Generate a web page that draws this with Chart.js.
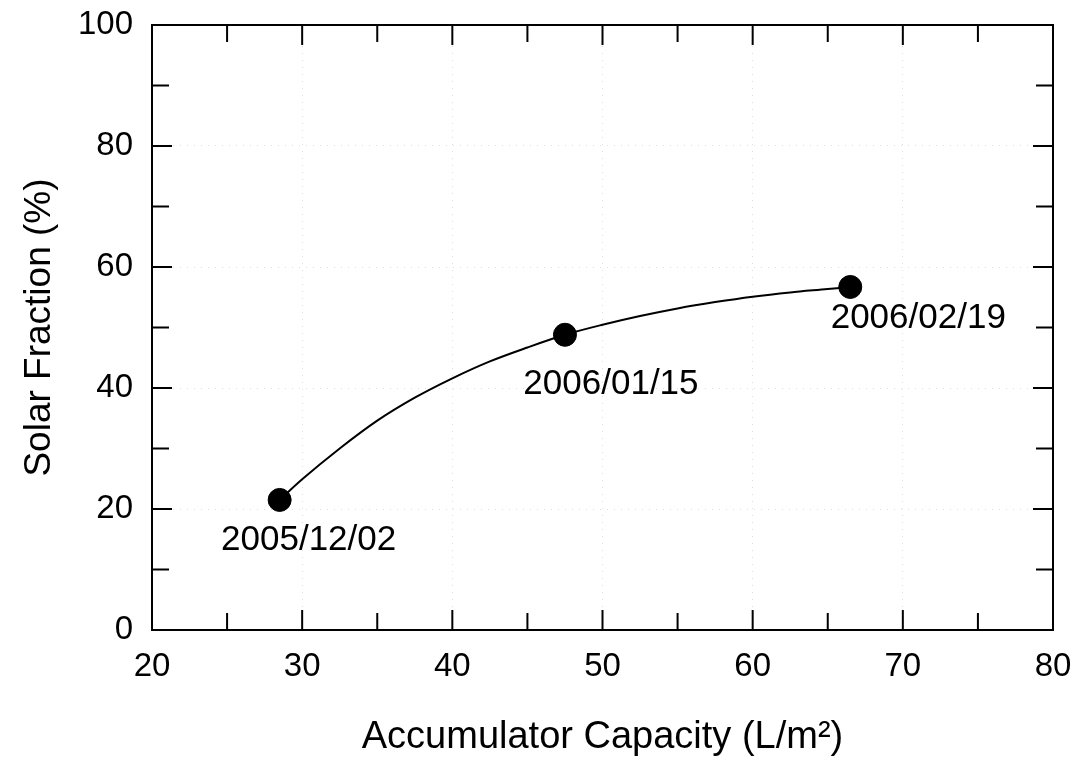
<!DOCTYPE html>
<html>
<head>
<meta charset="utf-8">
<script src="https://cdn.jsdelivr.net/npm/chart.js@4"></script>
<style>
  html, body { margin: 0; padding: 0; background: #fff; }
  #wrap { width: 1074px; height: 760px; }
</style>
</head>
<body>
<div id="wrap"><canvas id="c" width="1074" height="760"></canvas></div>
<script>
// ---- data ----
const capacity = [28.5, 47.5, 66.5];          // Accumulator Capacity (L/m2), measured points
const solarFraction = [21.5, 48.8, 56.7];     // Solar Fraction (%), measured points
const dates = ['2005/12/02', '2006/01/15', '2006/02/19'];
// fitted curve
const curveX = [28.5, 30, 32.5, 35, 37.5, 40, 42.5, 45, 47.5, 50, 52.5, 55, 57.5, 60, 62.5, 65, 66.5];
const curveY = [21.5, 24.9, 30.0, 34.6, 38.4, 41.6, 44.4, 46.7, 48.8, 50.45, 51.9, 53.15, 54.2, 55.1, 55.8, 56.35, 56.7];
const xTicks = [20, 30, 40, 50, 60, 70, 80];
const yTicks = [0, 20, 40, 60, 80, 100];
const xMinor = [25, 35, 45, 55, 65, 75];
const yMinor = [10, 30, 50, 70, 90];

const FONT = "Arial, 'Liberation Sans', sans-serif";
const labelOffsets = [[29, 40], [46, 50], [68, 31]];

const framePlugin = {
  id: 'frame',
  afterDraw(chart) {
    const { ctx, chartArea: a, scales: { x, y } } = chart;
    ctx.save();
    ctx.strokeStyle = '#000';
    ctx.lineWidth = 2;
    ctx.strokeRect(a.left, a.top, a.right - a.left, a.bottom - a.top);
    ctx.beginPath();
    const tickX = (vals, len) => {
      vals.forEach(v => {
        const px = x.getPixelForValue(v);
        ctx.moveTo(px, a.bottom); ctx.lineTo(px, a.bottom - len);
        ctx.moveTo(px, a.top); ctx.lineTo(px, a.top + len);
      });
    };
    const tickY = (vals, len) => {
      vals.forEach(v => {
        const py = y.getPixelForValue(v);
        ctx.moveTo(a.left, py); ctx.lineTo(a.left + len, py);
        ctx.moveTo(a.right, py); ctx.lineTo(a.right - len, py);
      });
    };
    tickX(xTicks.slice(1, -1), 20);
    tickX(xMinor, 17);
    tickY(yTicks.slice(1, -1), 20);
    tickY(yMinor, 17);
    ctx.stroke();
    // point labels
    ctx.fillStyle = '#000';
    ctx.font = '35px ' + FONT;
    ctx.textAlign = 'center';
    ctx.textBaseline = 'middle';
    const meta = chart.getDatasetMeta(1);
    meta.data.forEach((pt, i) => {
      ctx.fillText(dates[i], pt.x + labelOffsets[i][0], pt.y + labelOffsets[i][1]);
    });
    ctx.restore();
  }
};

function zeroPad(s) { s.paddingLeft = 0; s.paddingRight = 0; s.paddingTop = 0; s.paddingBottom = 0; }

new Chart(document.getElementById('c'), {
  type: 'line',
  data: {
    datasets: [{
      data: curveX.map((c, i) => ({ x: c, y: curveY[i] })),
      borderColor: '#000',
      borderWidth: 2,
      pointRadius: 0,
      cubicInterpolationMode: 'monotone',
      fill: false
    }, {
      data: capacity.map((c, i) => ({ x: c, y: solarFraction[i] })),
      showLine: false,
      borderColor: '#000',
      backgroundColor: '#000',
      pointRadius: 11.5,
      pointHoverRadius: 11.5,
      fill: false
    }]
  },
  options: {
    responsive: false,
    animation: false,
    events: [],
    layout: { padding: { top: 25, right: 21, left: 0, bottom: 0 } },
    plugins: { legend: { display: false }, tooltip: { enabled: false } },
    scales: {
      x: {
        type: 'linear', min: 20, max: 80,
        afterBuildTicks(s) { s.ticks = xTicks.map(v => ({ value: v })); },
        afterFit(s) { s.height = 130; zeroPad(s); },
        grid: { display: true, drawTicks: false, color: 'rgba(0,0,0,0.13)', lineWidth: 1 },
        border: { display: false, dash: [1, 6] },
        ticks: { color: '#000', font: { family: FONT, size: 33 }, padding: 17, maxRotation: 0 },
        title: { display: true, text: 'Accumulator Capacity (L/m²)', color: '#000', font: { family: FONT, size: 38 }, padding: { top: 0, bottom: 0 } }
      },
      y: {
        type: 'linear', min: 0, max: 100,
        afterBuildTicks(s) { s.ticks = yTicks.map(v => ({ value: v })); },
        afterFit(s) { s.width = 152; zeroPad(s); },
        grid: { display: true, drawTicks: false, color: 'rgba(0,0,0,0.13)', lineWidth: 1 },
        border: { display: false, dash: [1, 6] },
        ticks: { color: '#000', font: { family: FONT, size: 33 }, padding: 19 },
        title: { display: true, text: 'Solar Fraction (%)', color: '#000', font: { family: FONT, size: 37 }, padding: { top: 18, bottom: 18 } }
      }
    }
  },
  plugins: [framePlugin]
});
</script>
</body>
</html>
